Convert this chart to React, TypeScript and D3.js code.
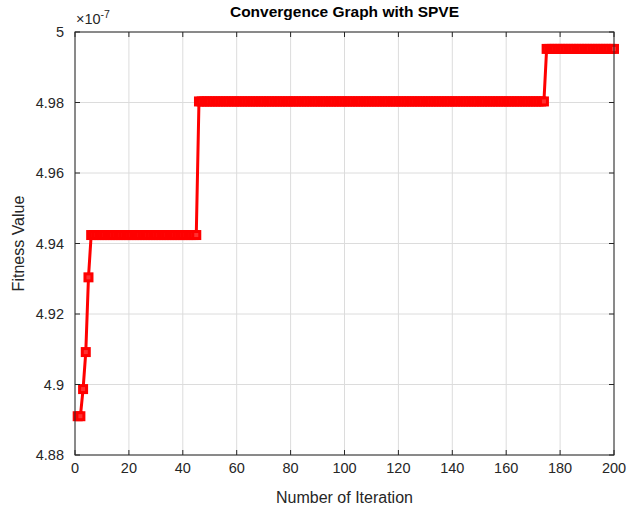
import React, { useEffect, useRef } from 'react'
import * as d3 from 'd3'

// fitness value (x 1e-7) for each iteration
const stageStarts = [1, 3, 4, 5, 6, 46, 175]
const stageValues = [4.891, 4.8987, 4.9092, 4.9304, 4.9424, 4.9803, 4.9952]
const maxIter = 200
const xTicks = [0, 20, 40, 60, 80, 100, 120, 140, 160, 180, 200]
const yTicks = [4.88, 4.9, 4.92, 4.94, 4.96, 4.98, 5]

const App = () => {
  const ref = useRef<HTMLDivElement>(null)

  useEffect(() => {
    document.body.style.margin = '0'
    document.documentElement.style.overflow = 'hidden'
    drawChart(ref.current)
  }, [])

  const W = 629
  const H = 509
  const m = { left: 75, right: 614, top: 32, bottom: 455 }

  const drawChart = (element: HTMLDivElement | null) => {
    if (!element) return
    d3.select(element).select('svg').remove()

    // expand stages into one value per iteration
    const data: { it: number; v: number }[] = []
    for (let it = 1; it <= maxIter; it++) {
      let v = stageValues[0]
      stageStarts.forEach((s, i) => { if (it >= s) v = stageValues[i] })
      data.push({ it, v })
    }

    const svg = d3.select(element).append('svg')
      .attr('width', W).attr('height', H)
      .style('display', 'block')
      .style('font-family', '"Liberation Sans", Arial, sans-serif')

    svg.append('rect').attr('width', W).attr('height', H).attr('fill', '#fff')

    const x = d3.scaleLinear().domain([0, maxIter]).range([m.left, m.right])
    const y = d3.scaleLinear().domain([4.88, 5]).range([m.bottom, m.top])

    // grid
    const grid = svg.append('g').attr('stroke', '#dcdcdc').attr('stroke-width', 1)
    xTicks.forEach(t => {
      grid.append('line').attr('x1', x(t)).attr('x2', x(t)).attr('y1', m.top).attr('y2', m.bottom)
    })
    yTicks.forEach(t => {
      grid.append('line').attr('y1', y(t)).attr('y2', y(t)).attr('x1', m.left).attr('x2', m.right)
    })

    // line + markers
    const line = d3.line<{ it: number; v: number }>().x(d => x(d.it)).y(d => y(d.v))
    svg.append('path').datum(data)
      .attr('d', line)
      .attr('fill', 'none').attr('stroke', '#ff0000').attr('stroke-width', 3)

    const s = 7
    svg.append('g').selectAll('rect').data(data).enter().append('rect')
      .attr('x', d => x(d.it) - s / 2).attr('y', d => y(d.v) - s / 2)
      .attr('width', s).attr('height', s)
      .attr('fill', '#ff3030').attr('stroke', '#ff0000').attr('stroke-width', 3)

    // axes box + inward ticks
    const ax = svg.append('g').attr('stroke', '#262626').attr('stroke-width', 1)
    ax.append('rect').attr('x', m.left).attr('y', m.top)
      .attr('width', m.right - m.left).attr('height', m.bottom - m.top).attr('fill', 'none')
    const tl = 5
    xTicks.forEach(t => {
      ax.append('line').attr('x1', x(t)).attr('x2', x(t)).attr('y1', m.bottom).attr('y2', m.bottom - tl)
      ax.append('line').attr('x1', x(t)).attr('x2', x(t)).attr('y1', m.top).attr('y2', m.top + tl)
    })
    yTicks.forEach(t => {
      ax.append('line').attr('y1', y(t)).attr('y2', y(t)).attr('x1', m.left).attr('x2', m.left + tl)
      ax.append('line').attr('y1', y(t)).attr('y2', y(t)).attr('x1', m.right).attr('x2', m.right - tl)
    })

    svg.append('g').selectAll('text').data(xTicks).enter().append('text')
      .attr('x', d => x(d)).attr('y', m.bottom + 18)
      .attr('text-anchor', 'middle').attr('font-size', 14.5).attr('fill', '#262626')
      .text(d => String(d))
    svg.append('g').selectAll('text').data(yTicks).enter().append('text')
      .attr('x', m.left - 11).attr('y', d => y(d) + 5)
      .attr('text-anchor', 'end').attr('font-size', 14.5).attr('fill', '#262626')
      .text(d => String(+d.toFixed(2)))

    // exponent
    const ex = svg.append('text').attr('x', m.left + 1).attr('y', m.top - 8)
      .attr('font-size', 14.5).attr('fill', '#262626')
    ex.append('tspan').text('\u00d710')
    ex.append('tspan').attr('dy', -6).attr('font-size', 10.5).text('-7')

    svg.append('text').attr('x', (m.left + m.right) / 2).attr('y', 17)
      .attr('text-anchor', 'middle').attr('font-size', 15.5).attr('font-weight', 'bold')
      .attr('fill', '#000').text('Convergence Graph with SPVE')

    svg.append('text').attr('x', (m.left + m.right) / 2).attr('y', 503)
      .attr('text-anchor', 'middle').attr('font-size', 16).attr('fill', '#262626')
      .text('Number of Iteration')

    svg.append('text')
      .attr('transform', `translate(24, ${(m.top + m.bottom) / 2}) rotate(-90)`)
      .attr('text-anchor', 'middle').attr('font-size', 16).attr('fill', '#262626')
      .text('Fitness Value')
  }

  return <div ref={ref}></div>
}

export default App
